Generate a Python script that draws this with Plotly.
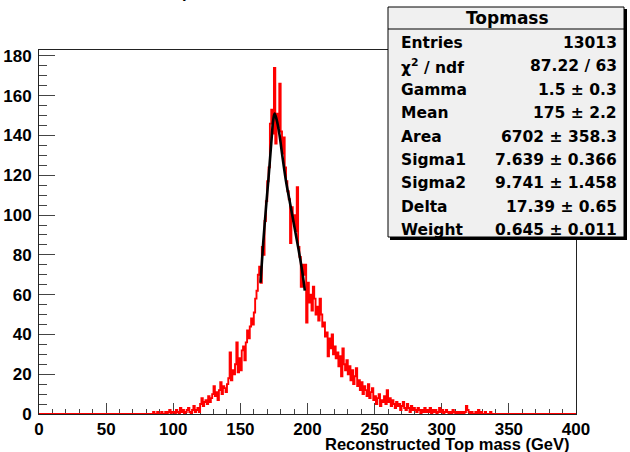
import plotly.graph_objects as go

# ---------------- data (1 GeV bins, counts) ----------------
bin_width = 1.0
x_min, x_max = 0, 400
counts_000_079 = [0] * 80
counts_080_099 = [0, 0, 0, 0, 0, 1, 0, 0, 1, 0, 0, 1, 0, 0, 1, 0, 1, 2, 0, 1]
counts_100_119 = [1, 0, 2, 1, 0, 3, 1, 2, 0, 1, 2, 3, 1, 0, 2, 4, 1, 2, 3, 1]
counts_120_139 = [5, 8, 4, 6, 7, 5, 9, 6, 8, 10, 14, 9, 11, 7, 12, 16, 10, 14, 13, 11]
counts_140_159 = [15, 18, 31, 17, 22, 20, 25, 36, 21, 28, 22, 32, 34, 27, 36, 42, 38, 44, 48, 45]
counts_160_179 = [51, 58, 62, 70, 74, 66, 84, 80, 97, 107, 117, 124, 146, 153, 141, 174, 136, 151, 144, 166]
counts_180_199 = [142, 131, 139, 124, 117, 112, 108, 86, 104, 97, 100, 92, 114, 84, 79, 64, 75, 70, 75, 46]
counts_200_219 = [66, 56, 60, 52, 64, 58, 50, 54, 47, 58, 50, 44, 46, 39, 41, 29, 38, 33, 40, 30]
counts_220_239 = [34, 28, 31, 24, 29, 19, 33, 25, 22, 27, 20, 24, 17, 22, 15, 19, 23, 14, 17, 12]
counts_240_259 = [16, 10, 14, 12, 9, 15, 8, 11, 13, 7, 9, 5, 8, 10, 4, 7, 6, 9, 5, 12]
counts_260_279 = [6, 8, 4, 7, 5, 3, 6, 4, 5, 2, 4, 6, 3, 2, 5, 3, 1, 4, 2, 3]
counts_280_299 = [2, 1, 3, 2, 0, 2, 1, 3, 1, 2, 1, 3, 0, 2, 1, 2, 0, 1, 3, 1]
counts_300_319 = [2, 0, 1, 2, 1, 0, 1, 0, 2, 1, 0, 1, 0, 1, 0, 1, 0, 1, 4, 2]
counts_320_339 = [1, 0, 1, 0, 0, 1, 0, 2, 0, 1, 0, 0, 1, 0, 0, 0, 1, 0, 0, 0]
counts_340_399 = [0] * 60

# fit curve
fit_x = [165, 167, 169, 171, 173, 174.5, 175.5, 177, 179, 181, 184, 187, 190, 193, 196, 198]
fit_y = [66, 86, 103, 119, 136, 148, 151, 148, 141, 131, 117, 106, 95, 84, 72, 62]

# stats box text
stats_title = "Topmass"
stats_labels = ["Entries", "\u03c7<sup>2</sup> / ndf", "Gamma", "Mean", "Area",
                "Sigma1", "Sigma2", "Delta", "Weight"]
stats_values = ["13013", "87.22 / 63", "1.5 \u00b1 0.3", "175 \u00b1 2.2",
                "6702 \u00b1 358.3", "7.639 \u00b1 0.366", "9.741 \u00b1 1.458",
                "17.39 \u00b1 0.65", "0.645 \u00b1 0.011"]
x_title = "Reconstructed Top mass (GeV)"
hist_title = "Topmass"

counts = (counts_000_079 + counts_080_099 + counts_100_119 + counts_120_139 +
          counts_140_159 + counts_160_179 + counts_180_199 + counts_200_219 +
          counts_220_239 + counts_240_259 + counts_260_279 + counts_280_299 +
          counts_300_319 + counts_320_339 + counts_340_399)
edges = [x_min + i * bin_width for i in range(len(counts) + 1)]
step_x = edges
step_y = counts + [counts[-1]]

# ---------------- layout geometry ----------------
W, H = 630, 452
L, R, T, B = 39, 576, 50, 414
FONT = "Liberation Sans"
STAT_FONT = "DejaVu Sans"


def px(x):
    return (x - L) / (R - L)


def py(y):
    return (B - y) / (B - T)


fig = go.Figure()
fig.add_trace(go.Scatter(x=step_x, y=step_y, mode="lines", line_shape="hv",
                         line=dict(color="#ff0000", width=1.9), hoverinfo="skip"))
fig.add_trace(go.Scatter(x=fit_x, y=fit_y, mode="lines", line_shape="spline",
                         line=dict(color="black", width=2.6), hoverinfo="skip"))

axis_font = dict(family=FONT, size=17, color="black", weight="bold")
fig.update_layout(
    width=W, height=H,
    margin=dict(l=L, r=W - R, t=T, b=H - B, pad=0),
    paper_bgcolor="white", plot_bgcolor="white",
    showlegend=False,
    xaxis=dict(range=[0, 400], dtick=50, tick0=0, ticks="inside", ticklen=11,
               tickcolor="#444", tickwidth=1, showgrid=False, zeroline=False,
               showline=True, linecolor="#222", linewidth=1, mirror=True,
               layer="below traces", tickfont=axis_font, automargin=False,
               minor=dict(dtick=10, ticks="inside", ticklen=5, tickcolor="#444")),
    yaxis=dict(range=[0, 183], dtick=20, tick0=0, ticks="inside", ticklen=16,
               tickcolor="#444", tickwidth=1, showgrid=False, zeroline=False,
               showline=True, linecolor="#222", linewidth=1, mirror=True,
               layer="below traces", tickfont=axis_font, ticklabelstandoff=3,
               automargin=False,
               minor=dict(dtick=5, ticks="inside", ticklen=8, tickcolor="#444")),
)

shapes = [
    dict(type="rect", xref="paper", yref="paper", x0=px(390), x1=px(627),
         y0=py(240), y1=py(9), fillcolor="black", line=dict(width=0), layer="above"),
    dict(type="rect", xref="paper", yref="paper", x0=px(388), x1=px(624),
         y0=py(237), y1=py(7), fillcolor="#f0f0f0",
         line=dict(color="black", width=1), layer="above"),
    dict(type="line", xref="paper", yref="paper", x0=px(388), x1=px(624),
         y0=py(29), y1=py(29), line=dict(color="black", width=1), layer="above"),
]
fig.update_layout(shapes=shapes)

stat_font = dict(family=STAT_FONT, size=15.5, color="black", weight="bold")
head_font = dict(family=STAT_FONT, size=17, color="black", weight="bold")
title_font = dict(family=FONT, size=16.5, color="black", weight="bold")
ann = [dict(text=stats_title, x=px(507), y=py(18), xref="paper", yref="paper",
            xanchor="center", yanchor="middle", showarrow=False, font=head_font)]
for i, (lab, val) in enumerate(zip(stats_labels, stats_values)):
    yc = 43 + i * 23.4
    ann.append(dict(text=lab, x=px(399), y=py(yc), xref="paper", yref="paper",
                    xanchor="left", yanchor="middle", showarrow=False, font=stat_font))
    ann.append(dict(text=val, x=px(619), y=py(yc), xref="paper", yref="paper",
                    xanchor="right", yanchor="middle", showarrow=False, font=stat_font))
ann.append(dict(text=x_title, x=px(572), y=py(444), xref="paper", yref="paper",
                xanchor="right", yanchor="middle", showarrow=False, font=title_font))
ann.append(dict(text=hist_title, x=px(161), y=py(3), xref="paper", yref="paper",
                xanchor="left", yanchor="bottom", showarrow=False, font=title_font))
fig.update_layout(annotations=ann)

fig.write_html("out.html")
